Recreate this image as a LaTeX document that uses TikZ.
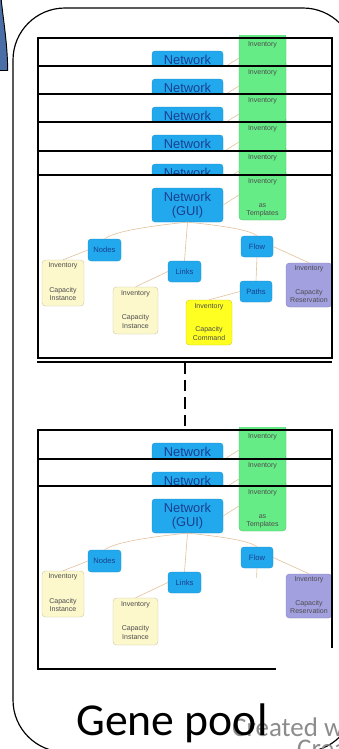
\documentclass[tikz,border=0pt]{standalone}
\usepackage{fontspec}
\setmainfont{Liberation Sans}
\newfontfamily\slidefont{Carlito}
\usetikzlibrary{positioning}

\definecolor{netblue}{HTML}{22A8EC}
\definecolor{netink}{HTML}{1B3F8F}
\definecolor{invgreen}{HTML}{66EC86}
\definecolor{invpale}{HTML}{FCF8CC}
\definecolor{invyellow}{HTML}{FFFF22}
\definecolor{invpurple}{HTML}{A3A0E0}
\definecolor{linkline}{HTML}{E3C09A}
\definecolor{slideblue}{HTML}{4A6EA6}

\def\pxl{0.03cm} % one pixel of the slide

\tikzset{
  btn/.style={rounded corners=2.5pt, fill=netblue, draw=netblue!85!black, line width=0.2pt,
    text=netink, font=\fontsize{6.5}{7.5}\selectfont, inner sep=0pt},
  invbox/.style={rounded corners=3pt, fill=#1, draw=#1!80!black, line width=0.3pt, inner sep=0pt},
  invtxt/.style={font=\fontsize{6}{7}\selectfont, text=black!70, inner sep=0pt, align=center},
  link/.style={draw=linkline, line width=0.5pt},
  frame/.style={draw=black, line width=1pt},
}

% a screen mostly hidden behind the next one, #1 = top, #2 = visible height
\newcommand{\netstrip}[2]{%
  \fill[white] (38,#1) rectangle (332,#1+#2);
  \begin{scope}
    \clip (38,#1-3) rectangle (332,#1+#2-2);
    \node[btn, minimum width=71*\pxl, minimum height=34*\pxl] (gui) at (187.5,#1+30) {};
    \node[btn, draw=none, fill=none, font=\fontsize{11}{12.5}\selectfont] at (187.5,#1+21.5) {Network};
    \node[invbox=invgreen, minimum width=47*\pxl, minimum height=50*\pxl] (green) at (262.5,#1+20) {};
    \node[invtxt] at (262.5,#1+7) {Inventory};
    \draw[link] (gui.east) -- (green.west);
  \end{scope}
  \draw[frame] (38,#1+#2) -- (38,#1) -- (332,#1) -- (332,#1+#2);
}

% the screen in front, #1 = top of its frame
\newcommand{\netview}[1]{%
  \fill[white] (38,#1) rectangle (332,#1+183);
  \begin{scope}
    \clip (38,#1-3) rectangle (332,#1+183);
    \begin{scope}[shift={(0,#1)}]
      % buttons
      \node[btn, minimum width=71*\pxl, minimum height=34*\pxl, align=center,
        font=\fontsize{11}{12.5}\selectfont] (gui) at (187.5,30) {Network\\(GUI)};
      \node[btn, minimum width=33*\pxl, minimum height=22*\pxl] (nodes) at (104.5,75) {Nodes};
      \node[btn, minimum width=33*\pxl, minimum height=21*\pxl] (links) at (184.5,96.5) {Links};
      \node[btn, minimum width=32*\pxl, minimum height=21*\pxl] (flow) at (257,71.5) {Flow};
      \node[btn, minimum width=32*\pxl, minimum height=21*\pxl] (paths) at (256,116.5) {Paths};
      % inventories
      \node[invbox=invgreen, minimum width=47*\pxl, minimum height=50*\pxl] (green) at (262.5,20) {};
      \node[invtxt] at (262.5,7) {Inventory};
      \node[invtxt] at (262.5,35) {as\\Templates};
      \node[invbox=invpale, minimum width=42*\pxl, minimum height=46*\pxl] (box1) at (63,108) {};
      \node[invtxt] at (63,91) {Inventory};
      \node[invtxt] at (63,119) {Capacity\\Instance};
      \node[invbox=invpale, minimum width=45*\pxl, minimum height=47*\pxl] (box2) at (135.5,135.5) {};
      \node[invtxt] at (135.5,118.5) {Inventory};
      \node[invtxt] at (135.5,146.5) {Capacity\\Instance};
      \node[invbox=invyellow, minimum width=46*\pxl, minimum height=45*\pxl] (yellow) at (209,147.5) {};
      \node[invtxt] at (209,131.5) {Inventory};
      \node[invtxt] at (209,158.5) {Capacity\\Command};
      \node[invbox=invpurple, minimum width=46*\pxl, minimum height=44*\pxl] (purple) at (309,110) {};
      \node[invtxt] at (309,94) {Inventory};
      \node[invtxt] at (309,121) {Capacity\\Reservation};
      % links
      \draw[link] (gui.south) .. controls (150,51) and (115,56) .. (nodes.north);
      \draw[link] (gui.south) .. controls (225,51) and (250,55) .. (flow.north);
      \draw[link] (gui.south) -- (links.north);
      \draw[link] (gui.east) -- (green.west);
      \draw[link] (nodes.west) -- (box1.north);
      \draw[link] (links.west) -- (box2.north);
      \draw[link] (flow.south) -- (paths.north);
      \draw[link] (paths.west) -- (yellow.north);
      \draw[link] (flow.east) -- (purple.north);
    \end{scope}
  \end{scope}
  \draw[frame] (38,#1) rectangle (332,#1+183);
}

\begin{document}
\begin{tikzpicture}[x=0.03cm, y=-0.03cm]
  \useasboundingbox (0,0) rectangle (339,749);
  \clip (0,0) rectangle (339,749);

  % slide shapes
  \draw[fill=slideblue, line width=0.8pt] (-2,-2) -- (1,-2) .. controls (4,25) and (7.5,45) .. (7.7,70.5) -- (-2,70.5) -- cycle;
  \draw[line width=1pt, rounded corners=1.56cm] (13,8) rectangle (355,752);

  % upper stack of screens
  \netstrip{38}{28}
  \netstrip{66}{28}
  \netstrip{94}{28}
  \netstrip{122}{29}
  \netstrip{151}{24}
  \netview{175}
  \draw[frame] (37,362) -- (332,362);

  % gap
  \coordinate (gapTop) at (185,362);
  \coordinate (gapBot) at (185,430);
  \draw[line width=1.3pt, dash pattern=on 10pt off 5pt] (gapTop) -- (gapBot);

  % lower stack of screens
  \netstrip{430}{29}
  \netstrip{459}{27}
  \netview{486}
  \fill[white] (205,578) rectangle (275,596);
  \fill[white] (170,596) rectangle (275,667.3);
  \fill[white] (275.5,647.5) rectangle (340,680);

  % caption
  \node[anchor=base west, inner sep=0, text=black!45, font=\slidefont\fontsize{23}{24}\selectfont] (mark) at (232,736) {Created w};
  \node[anchor=north west, inner sep=0, text=black!45, font=\slidefont\fontsize{23}{24}\selectfont] (mark2) at (297,740) {Crea};
  \node[anchor=base west, inner sep=0, font=\slidefont\fontsize{39}{40}\selectfont] (genepool) at (76,735) {Gene pool};
\end{tikzpicture}
\end{document}
